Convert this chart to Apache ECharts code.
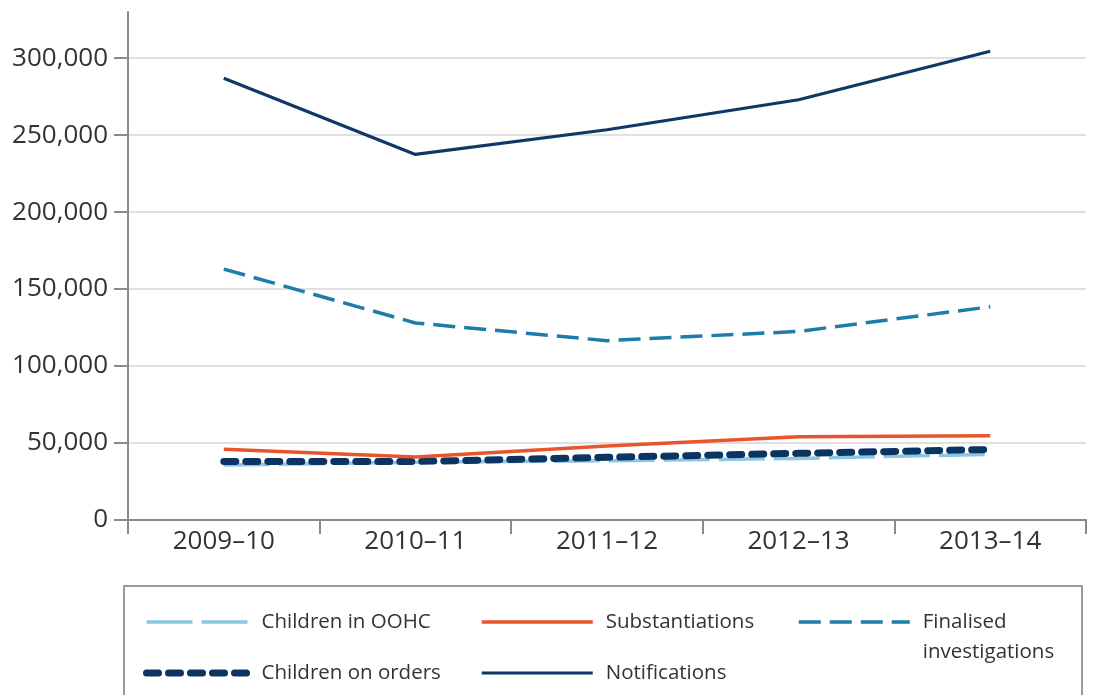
<!DOCTYPE html>
<html>
<head>
<meta charset="utf-8">
<script src="https://cdn.jsdelivr.net/npm/echarts@6/dist/echarts.min.js"></script>
<style>
  html, body { margin: 0; padding: 0; background: #fff; }
  #chart { width: 1104px; height: 695px; }
</style>
</head>
<body>
<div id="chart"></div>
<script>
var years = ['2009–10', '2010–11', '2011–12', '2012–13', '2013–14'];
var yTicks = [0, 50000, 100000, 150000, 200000, 250000, 300000];

var oohc = [35700, 37500, 38500, 40000, 42700];
var orders = [38000, 38000, 40700, 43300, 45800];
var substantiations = [46000, 41000, 48000, 54000, 54800];
var finalised = [163000, 128000, 116500, 122500, 138500];
var notifications = [287000, 237500, 253500, 273000, 304500];

var font = "'Open Sans', 'Noto Sans', sans-serif";

var chart = echarts.init(document.getElementById('chart'));

function fmt(v) {
    return v === 0 ? '0' : v.toLocaleString('en-US');
}

// legend: line only, no symbol in the middle
var legendText = {
    color: '#333', fontSize: 20.5, fontFamily: font, lineHeight: 30,
    rich: { t: { color: '#333', fontSize: 20.5, fontFamily: font, lineHeight: 30, padding: [0, 0, 0, 8] } }
};
var legendLine = { width: 'inherit', type: 'inherit', cap: 'inherit', color: 'inherit' };
var legendItem = { color: 'rgba(0,0,0,0)', borderWidth: 0, opacity: 0 };

function legendFmt(name) {
    // blank first line keeps the icon level with "Finalised"
    var lines = name === 'Finalised investigations' ? [' ', 'Finalised', 'investigations'] : [name];
    return lines.map(function (s) { return '{t|' + s + '}'; }).join('\n');
}

var option = {
    animation: false,
    grid: { left: 128, right: 18, top: 12, bottom: 175 },
    xAxis: {
        type: 'category',
        data: years,
        boundaryGap: true,
        axisLine: { lineStyle: { color: '#8a8a8a', width: 2 } },
        axisTick: { show: true, length: 14, interval: 0, lineStyle: { color: '#8a8a8a', width: 2 } },
        axisLabel: { margin: 9, color: '#333', fontSize: 26, fontFamily: font }
    },
    yAxis: {
        type: 'value',
        min: 0,
        max: 330000,
        interval: 50000,
        axisLine: { show: true, lineStyle: { color: '#8a8a8a', width: 2 } },
        axisTick: { show: true, length: 14, customValues: yTicks, lineStyle: { color: '#8a8a8a', width: 2 } },
        axisLabel: { margin: 20, color: '#333', fontSize: 26, fontFamily: font, customValues: yTicks, formatter: fmt },
        splitLine: {
            show: true,
            lineStyle: {
                width: 2,
                color: ['#e0e0e0', '#e0e0e0', '#e0e0e0', '#e0e0e0', '#e0e0e0', '#e0e0e0', '#e0e0e0', 'rgba(0,0,0,0)']
            }
        }
    },
    legend: [
        {
            data: ['Children in OOHC', 'Children on orders'],
            orient: 'vertical', left: 143, top: 607, padding: 0,
            itemWidth: 102, itemHeight: 14, itemGap: 21,
            formatter: legendFmt,
            textStyle: legendText, lineStyle: legendLine, itemStyle: legendItem
        },
        {
            data: ['Substantiations', 'Notifications'],
            orient: 'vertical', left: 480, top: 607, padding: 0,
            itemWidth: 111, itemHeight: 14, itemGap: 21,
            formatter: legendFmt,
            textStyle: legendText, lineStyle: legendLine, itemStyle: legendItem
        },
        {
            data: ['Finalised investigations'],
            orient: 'vertical', left: 797, top: 577, padding: 0,
            itemWidth: 111, itemHeight: 14,
            formatter: legendFmt,
            textStyle: legendText, lineStyle: legendLine, itemStyle: legendItem
        }
    ],
    graphic: [{
        type: 'rect',
        shape: { x: 124, y: 586, width: 958, height: 150 },
        style: { fill: 'none', stroke: '#9a9a9a', lineWidth: 2 },
        silent: true
    }],
    series: [
        {
            name: 'Children in OOHC', type: 'line', data: oohc,
            symbol: 'none',
            lineStyle: { color: '#8cc6e0', width: 3.5, type: [46, 9] }
        },
        {
            name: 'Children on orders', type: 'line', data: orders,
            symbol: 'none',
            lineStyle: { color: '#0c3462', width: 7, type: [12, 10], cap: 'round' }
        },
        {
            name: 'Substantiations', type: 'line', data: substantiations,
            symbol: 'none',
            lineStyle: { color: '#e8552a', width: 3.5 }
        },
        {
            name: 'Finalised investigations', type: 'line', data: finalised,
            symbol: 'none',
            lineStyle: { color: '#1d7da8', width: 3.5, type: [22, 9] }
        },
        {
            name: 'Notifications', type: 'line', data: notifications,
            symbol: 'none',
            lineStyle: { color: '#0f3866', width: 3.2 }
        }
    ]
};

chart.setOption(option);
</script>
</body>
</html>
